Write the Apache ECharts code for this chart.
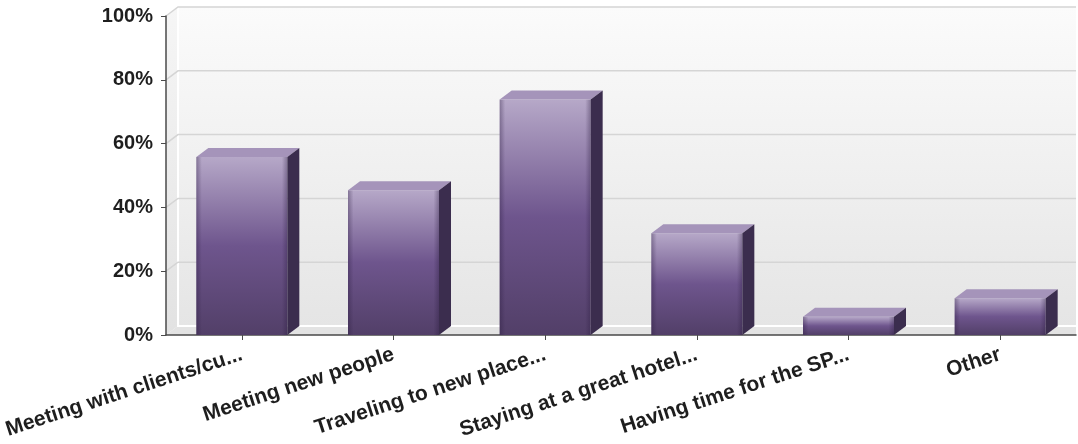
<!DOCTYPE html>
<html><head><meta charset="utf-8">
<script src="https://cdn.jsdelivr.net/npm/echarts@6/dist/echarts.min.js"></script>
<style>html,body{margin:0;padding:0;background:#fff}#c{width:1078px;height:444px}</style>
</head><body><div id="c"></div>
<script>
const categories = ['Meeting with clients/cu...', 'Meeting new people', 'Traveling to new place...', 'Staying at a great hotel...', 'Having time for the SP...', 'Other'];
const values = [55.8, 45.4, 73.8, 31.9, 5.7, 11.5];
const yTicks = [0, 20, 40, 60, 80, 100];

const DX = 12, DY = 9;
const FONT = '"Liberation Sans", Arial, sans-serif';

function renderWall(params, api) {
  const cs = params.coordSys;
  const L = cs.x, R = cs.x + cs.width, T = cs.y, B = cs.y + cs.height;
  const v = api.value(1);
  const y = api.coord([0, v])[1];
  const children = [];
  if (params.dataIndex === 0) {
    children.push({
      type: 'polygon', shape: { points: [[L + DX, T - DY], [R, T - DY], [R, B - DY], [L + DX, B - DY]] },
      style: { fill: new echarts.graphic.LinearGradient(0, 0, 0, 1, [
        { offset: 0, color: '#fbfbfb' }, { offset: 1, color: '#e5e5e5' }]) }
    });
    children.push({
      type: 'polygon', shape: { points: [[L, T], [L + DX, T - DY], [L + DX, B - DY], [L, B]] },
      style: { fill: new echarts.graphic.LinearGradient(0, 0, 0, 1, [
        { offset: 0, color: '#f6f6f6' }, { offset: 1, color: '#e2e2e2' }]) }
    });
    children.push({
      type: 'polygon', shape: { points: [[L, B], [L + DX, B - DY], [R, B - DY], [R, B]] },
      style: { fill: '#e3e3e3' }
    });
    children.push({
      type: 'polyline', shape: { points: [[L + DX, T - DY], [L + DX, B - DY], [R, B - DY]] },
      style: { stroke: '#ffffff', lineWidth: 2, fill: null }
    });
  } else {
    children.push({
      type: 'polyline', shape: { points: [[L, y], [L + DX, y - DY], [R, y - DY]] },
      style: { stroke: '#d5d5d5', lineWidth: 1.5, fill: null }
    });
  }
  return { type: 'group', children: children };
}

function renderBar(params, api) {
  const idx = api.value(0), v = api.value(1);
  const top = api.coord([idx, v]);
  const base = api.coord([idx, 0]);
  const bw = api.size([1, 0])[0] * 0.6;
  const x0 = top[0] - bw / 2, x1 = top[0] + bw / 2;
  const yt = top[1], yb = base[1];
  return {
    type: 'group',
    children: [
      {
        type: 'rect', shape: { x: x0, y: yt, width: bw, height: yb - yt },
        style: { fill: new echarts.graphic.LinearGradient(0, 0, 0, 1, [
          { offset: 0, color: '#b6a8c8' },
          { offset: 0.5, color: '#6e558d' },
          { offset: 1, color: '#523f68' }]) }
      },
      {
        type: 'rect', shape: { x: x0, y: yt, width: bw, height: yb - yt },
        style: { fill: new echarts.graphic.LinearGradient(0, 0, 1, 0, [
          { offset: 0, color: 'rgba(40,25,60,0.35)' },
          { offset: 0.06, color: 'rgba(40,25,60,0)' },
          { offset: 0.94, color: 'rgba(40,25,60,0)' },
          { offset: 1, color: 'rgba(40,25,60,0.35)' }]) }
      },
      {
        type: 'polygon', shape: { points: [[x0, yt], [x0 + DX, yt - DY], [x1 + DX, yt - DY], [x1, yt]] },
        style: { fill: '#a594ba' }
      },
      {
        type: 'polygon', shape: { points: [[x1, yt], [x1 + DX, yt - DY], [x1 + DX, yb - DY], [x1, yb]] },
        style: { fill: '#3b2d4e' }
      }
    ]
  };
}

const chart = echarts.init(document.getElementById('c'), null, { renderer: 'canvas' });
chart.setOption({
  animation: false,
  backgroundColor: '#ffffff',
  grid: { left: 166, right: 2, top: 16, bottom: 109, containLabel: false, outerBoundsMode: 'none' },
  xAxis: {
    type: 'category',
    data: categories,
    axisLine: { show: true, lineStyle: { color: '#4a4a4a', width: 1.5 } },
    axisTick: { show: true, alignWithLabel: true, length: 5, lineStyle: { color: '#4a4a4a' } },
    axisLabel: { rotate: 18, interval: 0, margin: 19, color: '#1e1e1e', fontWeight: 'bold', fontSize: 21, fontFamily: FONT },
    splitLine: { show: false }
  },
  yAxis: {
    type: 'value', min: 0, max: 100, interval: 20,
    axisLine: { show: true, lineStyle: { color: '#4a4a4a', width: 1.5 } },
    axisTick: { show: true, length: 5, lineStyle: { color: '#4a4a4a' } },
    axisLabel: { formatter: '{value}%', margin: 13, color: '#1e1e1e', fontWeight: 'bold', fontSize: 20, fontFamily: FONT },
    splitLine: { show: false }
  },
  series: [
    {
      type: 'custom', z: -1, clip: false, silent: true,
      renderItem: renderWall,
      data: yTicks.map(v => [0, v])
    },
    {
      type: 'custom', z: 3, clip: false,
      renderItem: renderBar,
      data: values.map((v, i) => [i, v])
    }
  ]
});
</script>
</body></html>
